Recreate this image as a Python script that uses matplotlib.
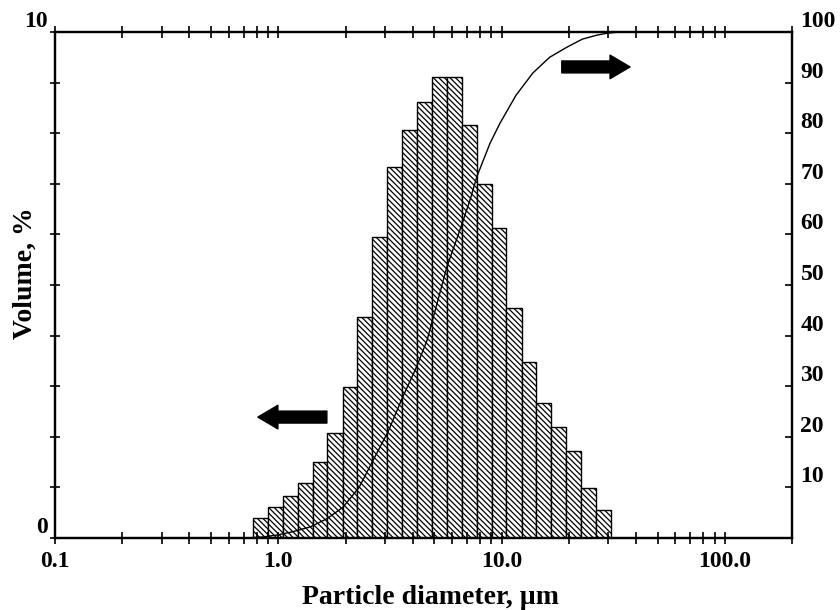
import numpy as np
import matplotlib
matplotlib.use('Agg')
import matplotlib.pyplot as plt
from matplotlib.ticker import LogLocator, NullFormatter

plt.rcParams['font.family'] = ['Liberation Serif', 'DejaVu Serif']
plt.rcParams['font.weight'] = 'bold'
plt.rcParams['axes.labelweight'] = 'bold'
plt.rcParams['hatch.linewidth'] = 0.9
plt.rcParams['hatch.color'] = '#606060'

# size classes (um) and volume fraction (%)
edges = [0.77, 0.90, 1.05, 1.22, 1.43, 1.66, 1.94, 2.26, 2.64, 3.08, 3.59, 4.19,
         4.88, 5.69, 6.64, 7.74, 9.03, 10.5, 12.3, 14.3, 16.7, 19.5, 22.7, 26.5, 30.9]
volume = [0.40, 0.61, 0.83, 1.09, 1.50, 2.08, 2.98, 4.37, 5.95, 7.33, 8.06, 8.62,
          9.11, 9.11, 8.16, 7.00, 6.13, 4.55, 3.48, 2.67, 2.19, 1.72, 0.99, 0.55]

# cumulative curve (%)
cum_d = [0.60, 0.71, 0.85, 0.99, 1.15, 1.39, 1.65, 1.95, 2.3, 2.66, 3.1, 3.61, 4.13,
         4.63, 5.15, 5.69, 6.51, 7.22, 7.76, 8.87, 9.84, 11.6, 13.8, 16.4, 19.6,
         23.0, 26.8, 30.0, 33.9, 60.0, 200.0]
cum_pct = [0.0, 0.0, 0.2, 0.6, 1.2, 2.2, 3.8, 6.1, 10.0, 15.4, 21.0, 27.9, 33.5,
           39.0, 46.5, 53.6, 60.9, 66.8, 71.5, 78.0, 82.0, 87.5, 91.9, 95.0, 97.0,
           98.6, 99.4, 99.8, 100.0, 100.0, 100.0]

fig = plt.figure(figsize=(8.4, 6.1), dpi=100)
ax = fig.add_axes([0.0655, 0.118, 0.8775, 0.8295])

left = np.array(edges[:-1])
widths = np.diff(edges)
ax.bar(left, volume, width=widths, align='edge', facecolor='white',
       edgecolor='black', linewidth=1.0, hatch='\\\\\\\\\\\\')

ax.set_xscale('log')
ax.set_xlim(0.1, 200)
ax.set_ylim(0, 10)
ax.set_xticks([0.1, 1, 10, 100])
ax.set_xticklabels(['0.1', '1.0', '10.0', '100.0'])
ax.xaxis.set_minor_locator(LogLocator(base=10, subs=np.arange(2, 10)))
ax.xaxis.set_minor_formatter(NullFormatter())
ax.tick_params(axis='x', which='both', direction='inout', top=True,
               labeltop=False, length=8, width=1.2, labelsize=17, pad=5)
ax.set_yticks(range(11))
ax.set_yticklabels(['0'] + [''] * 9 + ['10'])
ax.tick_params(axis='y', direction='inout', length=7, width=1.2,
               labelsize=17, pad=2, right=False)
for lab in ax.get_yticklabels():
    lab.set_va('bottom')

ax.set_xlabel('Particle diameter, \u00b5m', fontsize=20)
ax.xaxis.set_label_coords(0.509, -0.117)
ax.xaxis.label.set_va('center')
ax.set_ylabel('Volume, %', fontsize=20)
ax.yaxis.set_label_coords(-0.041, 0.524)
ax.yaxis.label.set_va('center')

# arrows pointing to each axis
ax.annotate('', xy=(0.81, 2.39), xytext=(1.65, 2.39),
            arrowprops=dict(arrowstyle='simple,head_length=0.72,head_width=0.85,tail_width=0.43',
                            color='black', mutation_scale=20, shrinkA=0, shrinkB=0))
ax.annotate('', xy=(37.6, 9.31), xytext=(18.6, 9.31),
            arrowprops=dict(arrowstyle='simple,head_length=0.72,head_width=0.85,tail_width=0.43',
                            color='black', mutation_scale=20, shrinkA=0, shrinkB=0))

ax2 = ax.twinx()
ax2.plot(cum_d, cum_pct, color='black', linewidth=1.0)
ax2.set_ylim(0, 100)
ax2.set_yticks(range(0, 101, 10))
ax2.set_yticklabels([''] + [str(v) for v in range(10, 101, 10)])
ax2.tick_params(axis='y', direction='in', length=5, width=1.2, labelsize=17, pad=6)
for lab in ax2.get_yticklabels():
    lab.set_va('bottom')

for a in (ax, ax2):
    for s in a.spines.values():
        s.set_linewidth(1.6)

fig.savefig('out.png', dpi=100)
